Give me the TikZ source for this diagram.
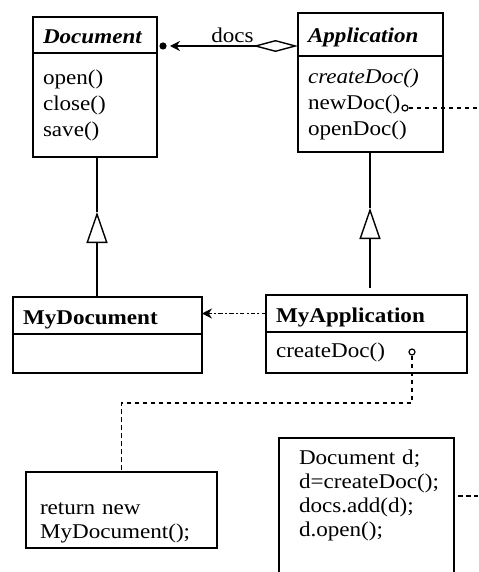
\documentclass[tikz,border=0pt]{standalone}
\usepackage{fontspec}
\setmainfont{Liberation Serif}[FakeStretch=1.1]
\usetikzlibrary{arrows.meta}

\tikzset{
  umlfont/.style={font=\fontsize{10.5pt}{13pt}\selectfont},
  classhead/.style={draw, line width=0.7pt, anchor=north west, outer sep=0pt,
    inner xsep=5pt, inner ysep=0pt, text height=8.5pt, text depth=0pt, align=left,
    font=\fontsize{10.5pt}{13pt}\selectfont\bfseries},
  classbody/.style={draw, line width=0.7pt, anchor=north west, outer sep=0pt,
    inner xsep=5pt, inner ysep=0pt, align=left, umlfont},
  codenote/.style={draw, line width=0.7pt, anchor=north west, outer sep=0pt,
    inner ysep=0pt, align=left, font=\fontsize{10.5pt}{12pt}\selectfont},
  port/.style={circle, draw, line width=0.6pt, inner sep=0pt, minimum size=3pt},
  assoc/.style={line width=0.7pt, {Diamond[open,length=22.5pt,width=6pt]}-{Stealth[length=5pt,width=5pt]}},
  inherit/.style={line width=0.7pt, -{Triangle[open,length=15.5pt,width=10.5pt]}},
  depends/.style={line width=0.8pt, dash pattern=on 2.2pt off 1.1pt on 1pt off 1.1pt, -{Stealth[length=5pt,width=5pt]}},
  noteline/.style={line width=0.9pt, dash pattern=on 2.4pt off 1.6pt}
}

\begin{document}
\begin{tikzpicture}[x=0.5pt,y=-0.5pt]
\path[use as bounding box, clip] (0,0) rectangle (478,572);

% abstract classes
\node[classhead, text width=52pt, minimum height=18pt, font=\fontsize{10.5pt}{13pt}\selectfont\bfseries\itshape] (dochead) at (33,17) {Document};
\node[classbody, text width=52pt, minimum height=52pt] (docbody) at (dochead.south west) {open()\\close()\\save()};
\node[classhead, text width=62.5pt, minimum height=21.5pt, font=\fontsize{10.5pt}{13pt}\selectfont\bfseries\itshape] (apphead) at (298,13) {Application};
\node[classbody, text width=62.5pt, minimum height=48pt] (appbody) at (apphead.south west) {\textit{createDoc()}\\newDoc()\\openDoc()};

% concrete classes
\node[classhead, text width=84.5pt, minimum height=18.5pt] (mydochead) at (13,297) {MyDocument};
\node[classbody, text width=84.5pt, minimum height=19.5pt] (mydocbody) at (mydochead.south west) {};
\node[classhead, text width=90.5pt, minimum height=18.5pt] (myapphead) at (266,295) {MyApplication};
\node[classbody, text width=90.5pt, minimum height=20.5pt] (myappbody) at (myapphead.south west) {createDoc()};

% notes
\node[codenote, inner xsep=7pt, text width=81.5pt, text height=21pt, text depth=17pt] (retnote) at (26,472) {return new\\MyDocument();};
\node[codenote, inner xsep=10pt, text width=67.5pt, text height=13pt, text depth=60pt] (codenote) at (279,438) {Document d;\\d=createDoc();\\docs.add(d);\\d.open();};

% ports and helper points
\node[port] (newport) at (405,108) {};
\node[port] (createport) at (412,352) {};
\node[circle, fill, inner sep=0pt, minimum size=3.6pt] (dot) at (163,46) {};
\coordinate (rim) at (478,0);
\coordinate (bend) at (0,403);
\coordinate (codeport) at (458,496);
\coordinate (gen1) at (97,212);
\coordinate (gen2) at (370,208);

% association
\draw[assoc, shorten >=1.5pt] (dot -| apphead.west) -- node[above, inner sep=1.5pt, umlfont] (docslabel) {docs} (dot.east);

% generalisations
\draw[inherit] (gen1 |- mydochead.north) -- (gen1);
\draw[line width=0.7pt] (gen1) -- (gen1 |- docbody.south);
\draw[inherit, shorten <=3.5pt] (gen2 |- myapphead.north) -- (gen2);
\draw[line width=0.7pt] (gen2) -- (gen2 |- appbody.south);

% dependency
\draw[depends] (myapphead.west) -- (myapphead.west -| mydochead.east);

% note connectors
\draw[noteline] (newport.east) -- (newport -| rim);
\draw[noteline] (createport.south) -- (createport |- bend) -- (retnote.north |- bend) -- (retnote.north);
\draw[noteline] (codeport) -- (codeport -| rim);
\end{tikzpicture}
\end{document}
